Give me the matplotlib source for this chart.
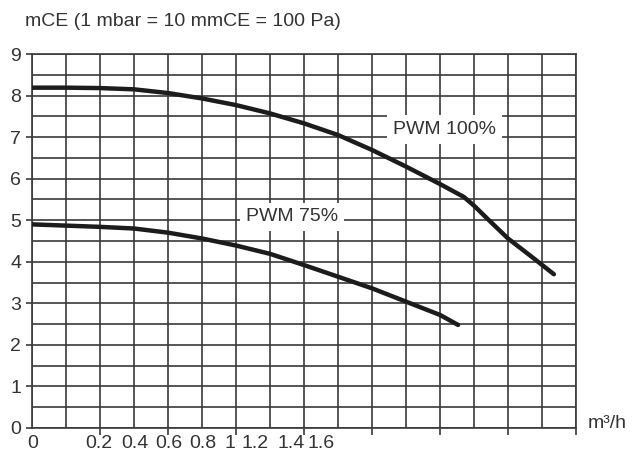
import numpy as np
import matplotlib
matplotlib.use('Agg')
import matplotlib.pyplot as plt

plt.rcParams['font.family'] = ['Liberation Sans', 'DejaVu Sans']

# x is given in grid columns (16 columns across the chart)
x_100 = [0, 1, 2, 3, 4, 5, 6, 7, 8, 9, 10, 11, 12, 12.7, 13, 13.4, 14,
         14.65, 15.35]
y_100 = [8.19, 8.19, 8.18, 8.15, 8.06, 7.93, 7.77, 7.57, 7.33, 7.05,
         6.69, 6.29, 5.87, 5.56, 5.35, 5.03, 4.56, 4.15, 3.70]
x_75 = [0, 1, 2, 3, 4, 5, 6, 7, 8, 9, 10, 11, 12, 12.53]
y_75 = [4.90, 4.87, 4.84, 4.80, 4.70, 4.56, 4.39, 4.19, 3.92, 3.64,
        3.36, 3.04, 2.72, 2.48]

xtick_pos = [0, 1.96, 3.01, 4.02, 5.02, 5.81, 6.57, 7.61, 8.5]
xtick_lab = ['0', '0.2', '0.4', '0.6', '0.8', '1', '1.2', '1.4', '1.6']
ytick_lab = [0, 1, 2, 3, 4, 5, 6, 7, 8, 9]

grid_col = '#3a3a3a'
txt_col = '#333333'

fig = plt.figure(figsize=(6.34, 4.57), dpi=100)
ax = fig.add_axes([0.0509, 0.0635, 0.9085 - 0.0509, 0.8818 - 0.0635])
ax.set_xlim(0, 16)
ax.set_ylim(0, 9)

# grid
ax.vlines(np.arange(0, 17), 0, 9, color=grid_col, lw=1.2, zorder=1)
ax.hlines(np.arange(0, 9.01, 0.5), 0, 16, color=grid_col, lw=1.2, zorder=1)
for s in ax.spines.values():
  s.set_color(grid_col)
  s.set_linewidth(1.2)

ax.plot(x_100, y_100, color='#1c1c1c', lw=3.2, solid_capstyle='round',
        solid_joinstyle='round', zorder=3)
ax.plot(x_75, y_75, color='#1c1c1c', lw=3.2, solid_capstyle='round',
        solid_joinstyle='round', zorder=3)

props = dict(boxstyle='square,pad=0.3', facecolor='white', edgecolor='none')
ax.text(7.64, 5.08, 'PWM 75%', fontsize=14, color=txt_col, ha='center',
        va='center', bbox=props, zorder=4)
ax.text(12.14, 7.19, 'PWM 100%', fontsize=14, color=txt_col, ha='center',
        va='center', bbox=props, zorder=4)

ax.set_xticks(xtick_pos)
ax.set_xticklabels(xtick_lab)
ax.set_xticks(np.arange(0, 17, 2), minor=True)
ax.tick_params(axis='x', which='major', length=0, pad=5, labelsize=14,
               labelcolor=txt_col)
ax.tick_params(axis='x', which='minor', length=5, width=1.2, color=grid_col)
ax.set_yticks(ytick_lab)
ax.tick_params(axis='y', which='major', length=4, width=1.2, color=grid_col,
               pad=4, labelsize=14, labelcolor=txt_col)

fig.text(25 / 634, 1 - 22 / 457, 'mCE (1 mbar = 10 mmCE = 100 Pa)',
         fontsize=14, color=txt_col, va='center', ha='left')
fig.text(588 / 634, 1 - 423 / 457, 'm³/h', fontsize=14, color=txt_col,
         va='center', ha='left')

fig.savefig('out.png', dpi=100)
